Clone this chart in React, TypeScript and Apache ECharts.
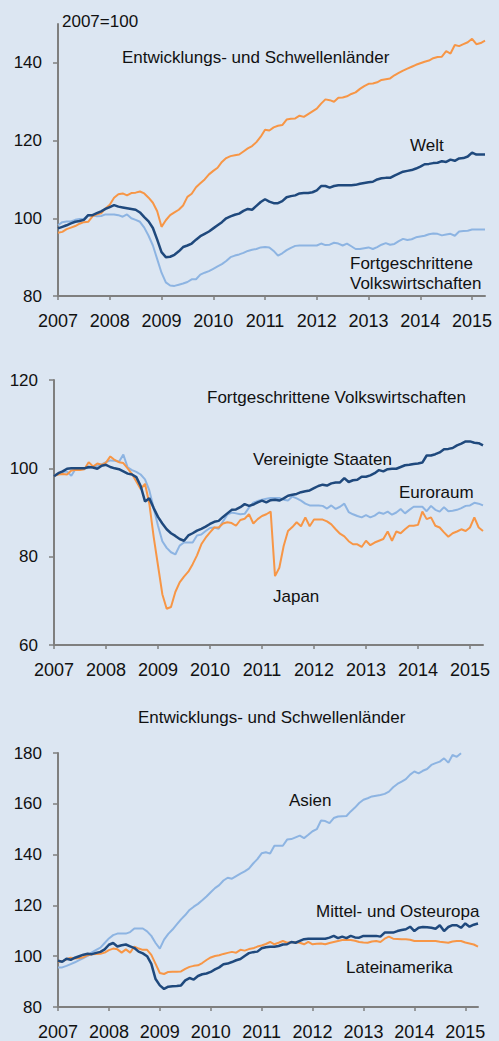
import React, { useEffect, useRef } from "react";
import * as echarts from "echarts";

// ---------- categories ----------
const years = [2007, 2008, 2009, 2010, 2011, 2012, 2013, 2014, 2015];
const lastMonth2015 = 4;
const months: string[] = [];
for (const y of years) {
  for (let m = 1; m <= 12; m++) {
    if (y === 2015 && m > lastMonth2015) break;
    months.push(`${y}-${String(m).padStart(2, "0")}`);
  }
}

// ---------- panel 1: 2007=100 ----------
const emerging = [
  96.3, 96.5, 97.2, 97.6, 98.0, 98.6, 99.0, 99.1, 100.5, 101.0, 101.3, 102.5,
  103.5, 105.3, 106.2, 106.4, 105.9, 106.5, 106.6, 106.9, 106.4, 105.3, 104.0, 101.8,
  97.8, 99.5, 100.8, 101.5, 102.2, 103.3, 105.5, 106.3, 108.0, 109.0, 110.0, 111.3,
  112.2, 113.0, 114.5, 115.5, 116.0, 116.2, 116.4, 117.2, 118.0, 118.6, 119.6, 121.0,
  122.8, 122.6, 123.4, 123.8, 124.0, 125.4, 125.6, 125.7, 126.4, 126.1, 126.8, 127.5,
  128.2, 129.5, 130.6, 130.4, 130.0, 131.0, 131.1, 131.4, 132.0, 132.4, 133.3, 134.0,
  134.6, 134.7, 135.0, 135.6, 135.8, 136.0, 136.8, 137.4, 138.0, 138.5, 139.0, 139.5,
  139.9, 140.3, 140.6, 141.2, 141.5, 141.6, 143.0, 142.4, 144.6, 144.3, 144.8, 145.3,
  146.2, 144.8, 145.1, 145.7,
];
const world = [
  97.4, 97.8, 98.2, 98.7, 99.1, 99.3, 99.6, 100.8, 100.8, 101.3, 101.8, 102.4,
  102.9, 103.4, 103.0, 102.8, 102.6, 102.4, 102.2, 101.5, 100.3, 99.2, 97.5, 94.5,
  91.3, 90.0, 90.1, 90.6, 91.5, 92.6, 93.0, 93.5, 94.5, 95.4, 96.0, 96.6,
  97.4, 98.2, 99.0, 100.0, 100.5, 100.9, 101.2, 101.9, 102.4, 102.2, 103.2, 104.2,
  104.9, 104.3, 103.9, 103.9, 104.4, 105.4, 105.7, 105.9, 106.4, 106.5, 106.5, 106.7,
  107.2, 108.3, 108.3, 107.9, 108.3, 108.5, 108.5, 108.5, 108.5, 108.6, 108.9, 109.1,
  109.3, 109.4, 110.0, 110.3, 110.4, 110.4, 111.0, 111.5, 112.0, 112.2, 112.4, 112.8,
  113.3, 113.9, 114.0, 114.2, 114.3, 114.7, 114.5, 115.1, 114.8, 115.4, 115.5, 115.9,
  116.9, 116.4, 116.4, 116.4,
];
const advanced = [
  98.2, 99.0, 99.2, 99.2, 99.6, 99.8, 99.9, 100.8, 100.8, 100.5, 100.6, 101.0,
  101.0, 101.0, 100.8, 100.4, 101.0, 100.0, 99.6, 99.1, 97.6, 95.5, 93.0, 89.5,
  86.0, 83.5, 82.7, 82.6, 82.9, 83.2, 83.6, 84.3, 84.3, 85.5, 86.0, 86.4,
  87.0, 87.6, 88.2, 89.0, 90.0, 90.4, 90.7, 91.1, 91.6, 91.9, 92.1, 92.5,
  92.6, 92.5, 91.6, 90.4, 91.0, 91.8, 92.4, 92.9, 93.0, 93.0, 93.0, 93.0,
  93.0, 93.5, 93.1, 93.2, 93.7, 93.5, 93.0, 93.5, 92.8, 92.1, 92.1, 92.3,
  92.5, 92.1, 92.6, 93.2, 93.6, 93.2, 93.4, 94.1, 94.7, 94.4, 94.6, 95.1,
  95.3, 95.5, 95.9, 96.1, 96.0, 95.6, 95.8, 96.0, 95.5, 96.6, 96.7, 96.8,
  97.1, 97.1, 97.1, 97.1,
];

// ---------- panel 2: advanced economies ----------
const usa = [
  98.2, 98.9, 99.3, 99.9, 100.0, 100.0, 100.0, 100.0, 100.3, 100.2, 99.9, 100.6,
  100.8, 100.3, 100.0, 99.8, 99.3, 98.8, 98.6, 98.0, 96.0, 92.5, 93.2, 91.0,
  89.0, 87.5, 86.2, 85.3, 84.7, 84.0, 83.6, 84.8, 85.3, 85.9, 86.3, 86.8,
  87.4, 87.9, 88.1, 89.0, 89.8, 90.6, 90.7, 91.2, 91.9, 91.5, 91.8, 92.3,
  92.7, 92.3, 92.8, 92.9, 92.7, 93.2, 93.8, 94.0, 94.2, 94.6, 94.8, 95.0,
  95.5, 96.0, 96.3, 96.1, 96.6, 96.8, 96.8, 97.8, 96.9, 97.3, 97.4, 98.1,
  98.1, 98.4, 98.9, 99.6, 99.3, 99.8, 99.9, 99.9, 100.3, 100.7, 100.8, 101.0,
  101.1, 101.3, 102.9, 102.9, 103.2, 103.6, 104.3, 104.4, 104.6, 105.2, 105.6, 106.1,
  106.1, 105.8, 105.7, 105.2,
];
const euroArea = [
  98.3, 98.8, 99.2, 99.3, 98.3, 99.9, 100.0, 100.0, 100.1, 100.3, 100.6, 100.9,
  101.4, 101.8, 101.7, 101.5, 103.1, 100.2, 99.6, 99.2, 98.6, 97.5, 95.0, 91.0,
  87.0, 83.5, 82.0, 81.0, 80.5, 82.5, 83.2, 83.2, 83.2, 84.8, 85.0, 85.8,
  86.5, 86.6, 86.3, 88.0, 89.5, 90.0, 89.8, 89.6, 89.7, 91.1, 92.2, 92.6,
  92.9, 93.1, 93.3, 93.3, 93.3, 92.9, 92.7, 93.6, 93.2, 92.7, 92.0, 91.6,
  91.6, 91.6, 91.5, 90.9, 91.6, 90.8, 91.3, 92.0, 90.1, 89.6, 89.2, 88.9,
  89.4, 88.9, 89.3, 90.0, 89.7, 90.2, 89.5, 90.0, 90.8, 89.8, 90.6, 91.3,
  91.3, 91.3, 90.3, 91.5, 90.6, 90.2, 91.2, 90.3, 90.4, 90.6, 91.0, 91.5,
  91.6, 92.2, 92.0, 91.6,
];
const japan = [
  98.3, 98.6, 98.7, 98.6, 99.5, 99.6, 99.6, 99.8, 101.4, 100.4, 101.1, 100.8,
  101.3, 102.7, 101.9, 101.4, 101.2, 100.0, 98.7, 97.0, 95.3, 96.5, 92.0, 84.5,
  78.0, 71.5, 68.2, 68.6, 72.0, 74.2, 75.5, 76.6, 78.3, 80.3, 82.8, 84.3,
  85.5, 86.6, 86.6, 87.5, 87.8, 87.6, 87.0, 88.3, 88.6, 89.6, 87.5, 88.5,
  89.2, 89.6, 90.2, 75.6, 77.5, 82.4, 85.8, 86.7, 87.8, 86.9, 88.9, 86.9,
  88.4, 88.4, 88.4, 88.0, 87.3, 86.2, 85.2, 84.6, 83.5, 82.8, 82.8, 82.2,
  83.6, 82.6, 83.2, 83.6, 84.0, 85.7, 83.6, 85.7, 85.3, 86.2, 87.0, 87.0,
  87.2, 90.2, 88.5, 88.9, 87.0, 86.6, 85.5, 84.5, 85.3, 85.7, 86.2, 85.8,
  86.6, 88.9, 86.6, 85.8,
];

// ---------- panel 3: emerging economies ----------
const asia = [
  95.6, 95.6, 96.2, 96.9, 97.6, 98.5, 99.3, 100.1, 101.5, 102.5, 103.4, 105.2,
  107.0, 108.3, 108.9, 108.9, 108.9, 109.5, 110.9, 110.9, 110.9, 109.8, 108.0, 105.2,
  103.0, 106.5, 108.8, 110.5, 112.5, 114.5, 116.2, 118.2, 119.5, 120.6, 122.0, 123.5,
  125.2, 126.8, 128.0, 129.8, 130.9, 130.5, 131.5, 132.5, 133.4, 134.5, 136.5, 138.2,
  140.5, 140.9, 140.4, 143.5, 143.5, 143.5, 145.9, 146.1, 146.8, 147.5, 146.5, 147.8,
  149.2, 150.0, 153.4, 153.2, 152.4, 154.4, 155.0, 155.1, 155.2, 157.0, 158.5, 160.3,
  161.6, 162.2, 162.9, 163.2, 163.5, 163.9, 164.8, 166.5, 167.8, 168.7, 169.7, 171.5,
  172.7, 172.0, 173.0, 173.7, 175.3, 176.0, 176.6, 177.9, 176.2, 179.2, 178.5, 179.9,
  null, null, null, null,
];
const centralEasternEurope = [
  98.2, 97.8, 99.0, 98.6, 99.4, 100.0, 100.6, 101.0, 100.8, 101.3, 101.7, 102.7,
  104.5, 105.2, 103.8, 104.3, 104.6, 103.9, 103.2, 101.8, 101.1, 100.0, 97.0, 91.0,
  88.5, 87.1, 88.0, 88.2, 88.3, 88.5, 90.5, 91.4, 90.8, 92.2, 92.9, 93.2,
  93.8, 94.8, 95.6, 96.8, 97.1, 97.7, 98.4, 98.9, 100.1, 101.2, 101.6, 101.8,
  103.1, 103.5, 103.7, 103.7, 104.0, 104.6, 104.7, 105.6, 105.3, 106.0, 106.7, 106.9,
  106.9, 106.9, 106.9, 106.9, 107.3, 108.0, 107.1, 107.7, 107.1, 108.0, 107.4, 107.3,
  108.0, 108.0, 108.0, 108.0, 107.7, 109.3, 109.3, 109.3, 109.9, 110.3, 110.6, 111.6,
  109.9, 111.2, 111.5, 111.4, 111.2, 110.8, 112.2, 109.9, 111.5, 112.2, 112.2, 111.2,
  112.9, 111.6, 112.4, 112.9,
];
const latinAmerica = [
  97.8, 98.0, 98.8, 99.4, 99.1, 99.3, 99.6, 100.4, 100.8, 100.9, 101.0, 101.4,
  102.4, 103.0, 102.7, 101.4, 102.7, 101.4, 103.8, 103.0, 102.5, 102.5, 100.5, 97.0,
  93.4, 93.0, 93.8, 93.9, 93.9, 94.0, 95.0, 95.8, 96.2, 96.4, 97.3, 98.5,
  99.5, 100.1, 100.4, 100.9, 101.3, 101.7, 101.4, 102.5, 102.2, 102.8, 103.1, 103.8,
  104.2, 104.8, 105.6, 104.7, 105.3, 106.0, 105.3, 105.6, 105.5, 105.3, 104.7, 105.6,
  104.7, 104.9, 105.0, 104.7, 105.2, 105.6, 106.0, 106.4, 106.4, 106.4, 106.1, 105.6,
  105.4, 105.3, 105.8, 106.0, 105.6, 106.9, 107.7, 106.9, 106.8, 106.7, 106.7, 106.5,
  106.0, 106.0, 106.0, 106.0, 106.0, 106.0, 105.7, 105.5, 105.3, 105.8, 106.0, 106.0,
  105.4, 105.0, 104.6, 103.8,
];

// ---------- tick labels ----------
const yTicks1 = [80, 100, 120, 140];
const yTicks2 = [60, 80, 100, 120];
const yTicks3 = [80, 100, 120, 140, 160, 180];

const ORANGE = "#f79646";
const DARK = "#1f497d";
const LIGHT = "#8db4e2";
const AXIS = "#7f7f7f";
const TEXT = "#111111";
const FONT = '"Liberation Sans", Arial, Helvetica, sans-serif';

function xAxisFor(gridIndex: number) {
  return {
    type: "category",
    gridIndex,
    data: months,
    boundaryGap: false,
    axisLine: { show: true, lineStyle: { color: AXIS, width: 2 } },
    axisTick: {
      show: true,
      interval: (i: number) => i % 12 === 0,
      length: 4,
      lineStyle: { color: AXIS, width: 1.5 },
    },
    axisLabel: {
      interval: (i: number) => i % 12 === 0,
      formatter: (v: string) => v.slice(0, 4),
      color: TEXT,
      fontSize: 18,
      fontFamily: FONT,
      margin: 16,
    },
    splitLine: { show: false },
  };
}

function yAxisFor(gridIndex: number, min: number, max: number, ticks: number[]) {
  return {
    type: "value",
    gridIndex,
    min,
    max,
    interval: 20,
    axisLine: { show: true, lineStyle: { color: AXIS, width: 2 } },
    axisTick: { show: true, length: 5, customValues: ticks, lineStyle: { color: AXIS, width: 1.5 } },
    axisLabel: {
      customValues: ticks,
      color: TEXT,
      fontSize: 17,
      fontFamily: FONT,
      margin: 16,
    },
    splitLine: { show: false },
  };
}

function lineSeries(name: string, idx: number, data: (number | null)[], color: string, width: number, z: number) {
  return {
    name,
    type: "line",
    xAxisIndex: idx,
    yAxisIndex: idx,
    data,
    showSymbol: false,
    symbol: "none",
    connectNulls: false,
    lineStyle: { color, width },
    itemStyle: { color },
    z,
  };
}

function label(text: string, x: number, y: number) {
  return {
    type: "text",
    x,
    y,
    silent: true,
    style: {
      text,
      fill: TEXT,
      font: `17px ${FONT}`,
      fontSize: 17,
      fontFamily: FONT,
      align: "left",
      verticalAlign: "middle",
      textAlign: "left",
      textVerticalAlign: "middle",
    },
  };
}

export default function App() {
  const ref = useRef<HTMLDivElement>(null);
  useEffect(() => {
    document.body.style.margin = "0";
    if (!ref.current) return;
    const chart = echarts.init(ref.current, undefined, { renderer: "svg" });
    chart.setOption({
      animation: false,
      backgroundColor: "#dce6f2",
      textStyle: { fontFamily: FONT },
      grid: [
        { left: 58, top: 24, width: 427, height: 272 },
        { left: 54, top: 380, width: 429, height: 265 },
        { left: 58, top: 753, width: 420, height: 255 },
      ],
      xAxis: [xAxisFor(0), xAxisFor(1), xAxisFor(2)],
      yAxis: [
        yAxisFor(0, 80, 150, yTicks1),
        yAxisFor(1, 60, 120, yTicks2),
        yAxisFor(2, 80, 180, yTicks3),
      ],
      series: [
        lineSeries("Fortgeschrittene Volkswirtschaften", 0, advanced, LIGHT, 2, 2),
        lineSeries("Entwicklungs- und Schwellenländer", 0, emerging, ORANGE, 2, 3),
        lineSeries("Welt", 0, world, DARK, 2.5, 4),
        lineSeries("Euroraum", 1, euroArea, LIGHT, 2, 2),
        lineSeries("Japan", 1, japan, ORANGE, 2, 3),
        lineSeries("Vereinigte Staaten", 1, usa, DARK, 2.5, 4),
        lineSeries("Asien", 2, asia, LIGHT, 2, 2),
        lineSeries("Lateinamerika", 2, latinAmerica, ORANGE, 2, 3),
        lineSeries("Mittel- und Osteuropa", 2, centralEasternEurope, DARK, 2.5, 4),
      ],
      graphic: [
        label("2007=100", 62, 21),
        label("Entwicklungs- und Schwellenländer", 122, 57),
        label("Welt", 410, 145),
        label("Fortgeschrittene", 350, 263),
        label("Volkswirtschaften", 350, 283),
        label("Fortgeschrittene Volkswirtschaften", 207, 397),
        label("Vereinigte Staaten", 253, 459),
        label("Euroraum", 399, 492),
        label("Japan", 273, 596),
        label("Entwicklungs- und Schwellenländer", 138, 717),
        label("Asien", 289, 800),
        label("Mittel- und Osteuropa", 316, 911),
        label("Lateinamerika", 346, 967),
      ],
    });
    return () => chart.dispose();
  }, []);
  return <div ref={ref} style={{ width: 499, height: 1041 }} />;
}
